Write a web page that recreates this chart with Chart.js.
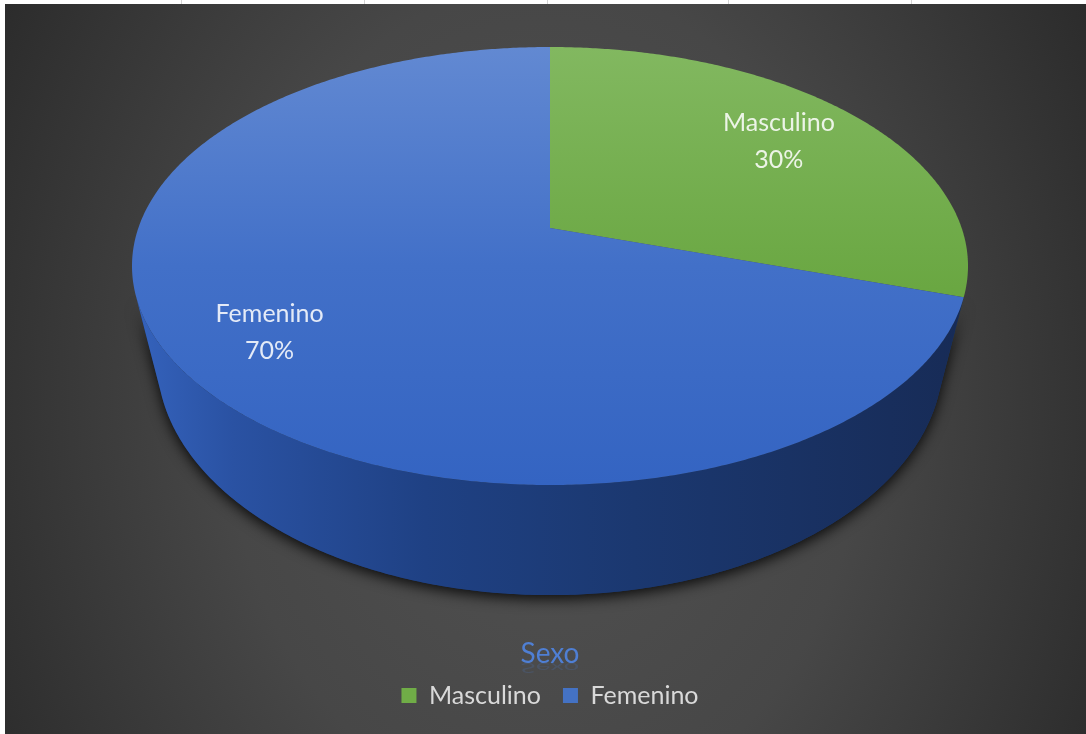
<!DOCTYPE html>
<html>
<head>
<meta charset="utf-8">
<title>Sexo</title>
<style>
  html, body { margin: 0; padding: 0; background: #ffffff; overflow: hidden; }
  canvas { display: block; }
</style>
<script src="https://cdn.jsdelivr.net/npm/chart.js@4.4.1/dist/chart.umd.min.js"></script>
</head>
<body>
<canvas id="chart" width="1086" height="734"></canvas>
<script>
// ---- data ----
const categories = ['Masculino', 'Femenino'];
const values = [30, 70];
const sliceColors = ['#70ad47', '#4472c4'];
const chartTitle = 'Sexo';

// ---- look ----
const FONT = "Lato, 'Liberation Sans', sans-serif";
const PERSPECTIVE = 0.1736;   // how much nearer points grow
const TILT = 0.516;           // vertical squash of the top face
const DEPTH = 0.221;          // height of the cylinder wall, relative to radius
const FLOOR_SHRINK = 0.06;    // the lower rim is farther from the eye, so it is a bit narrower
const LABEL_RADIUS = 0.76;    // where the slice labels sit, fraction of radius

// top face shading (far edge -> near edge) and wall shading (left -> right)
const topShades = [
  [[0, '#82b860'], [0.55, '#6aa742'], [1, '#63a23a']],
  [[0, '#6289d2'], [0.5, '#4270c8'], [1, '#3464c2']]
];
const sideShades = [
  [[0, '#4c862c'], [1, '#2e5819']],
  [[0, '#3563bd'], [0.12, '#2a52a3'], [0.35, '#1f4184'], [0.6, '#1b3870'], [1, '#172b56']]
];

function geometry(chart) {
  const area = chart.chartArea;
  const arcs = chart.getDatasetMeta(0).data;
  const A = (area.width / 2) * Math.sqrt(1 - PERSPECTIVE * PERSPECTIVE);
  const B = A * TILT;
  return {
    x0: arcs[0].x,
    y0: area.top + B / (1 + PERSPECTIVE),
    A, B, D: A * DEPTH,
    R: arcs[0].outerRadius,
    left: area.left, right: area.right, top: area.top
  };
}

// perspective projection of a point on the pie disc (angle t, radius fraction k),
// optionally dropped down to the lower rim
function project(g, t, k, drop) {
  const u = Math.cos(t) * k, v = Math.sin(t) * k;
  const w = 1 - PERSPECTIVE * v;
  const shrink = drop ? 1 - FLOOR_SHRINK : 1;
  return [g.x0 + g.A * u * shrink / w, g.y0 + (g.B * v + drop) / w];
}

function arcPoints(g, s, e, k, drop) {
  const pts = [];
  const n = Math.max(2, Math.ceil((e - s) / (Math.PI / 360)));
  for (let i = 0; i <= n; i++) pts.push(project(g, s + (e - s) * i / n, k, drop));
  return pts;
}

// the part of the wall that faces the viewer
function visibleWall(g) {
  const h = 1e-4;
  const facing = t => {
    const p0 = project(g, t - h, 1, 0), p1 = project(g, t + h, 1, 0);
    const top = project(g, t, 1, 0), bot = project(g, t, 1, g.D);
    const dx = p1[0] - p0[0], dy = p1[1] - p0[1];
    const ex = bot[0] - top[0], ey = bot[1] - top[1];
    return dx * ey - dy * ex < 0;
  };
  const step = Math.PI / 1440;
  let from = null, to = null;
  for (let t = 0; t <= Math.PI + 1e-9; t += step) {
    if (facing(t)) { if (from === null) from = t; to = t; }
  }
  return [from, to];
}

function makeGradient(ctx, x0, y0, x1, y1, stops) {
  const gr = ctx.createLinearGradient(x0, y0, x1, y1);
  stops.forEach(([o, c]) => gr.addColorStop(o, c));
  return gr;
}

function tracePath(ctx, pts, start) {
  pts.forEach(([x, y], i) => (i === 0 && start) ? ctx.moveTo(x, y) : ctx.lineTo(x, y));
}

const pie3d = {
  id: 'pie3d',
  beforeDraw(chart) {
    const { ctx, width, height } = chart;
    ctx.save();
    ctx.fillStyle = '#ffffff';
    ctx.fillRect(0, 0, width, height);
    // worksheet gridline stubs above the panel
    ctx.strokeStyle = '#d4d4d4';
    ctx.lineWidth = 1;
    [181, 364, 547, 728, 911].forEach(x => {
      ctx.beginPath(); ctx.moveTo(x + 0.5, 0); ctx.lineTo(x + 0.5, 4); ctx.stroke();
    });
    // dark panel with soft radial light
    const bx = 5, by = 4;
    const cx = 545, cy = 400, sy = 1.3;
    ctx.translate(cx, cy);
    ctx.scale(1, sy);
    const bg = ctx.createRadialGradient(0, 0, 0, 0, 0, 640);
    bg.addColorStop(0, '#525252');
    bg.addColorStop(0.5, '#474747');
    bg.addColorStop(1, '#2a2a2a');
    ctx.fillStyle = bg;
    ctx.fillRect(bx - cx, (by - cy) / sy, width - bx, (height - by) / sy);
    ctx.restore();
  },
  beforeDatasetsDraw(chart) {
    const { ctx } = chart;
    const arcs = chart.getDatasetMeta(0).data;
    const g = geometry(chart);
    const nearY = g.y0 + g.B / (1 - PERSPECTIVE);
    const [wFrom, wTo] = visibleWall(g);

    // drop shadow under the wall
    ctx.save();
    ctx.beginPath();
    tracePath(ctx, arcPoints(g, wFrom, wTo, 1, g.D), true);
    tracePath(ctx, arcPoints(g, wFrom, wTo, 1, 0).reverse(), false);
    ctx.closePath();
    ctx.shadowColor = 'rgba(0,0,0,0.85)';
    ctx.shadowBlur = 14;
    ctx.shadowOffsetY = 4;
    ctx.fillStyle = '#1b3566';
    ctx.fill();
    ctx.restore();

    // walls
    arcs.forEach((el, i) => {
      const s = Math.max(el.startAngle, wFrom), e = Math.min(el.endAngle, wTo);
      if (e <= s) return;
      const k = el.outerRadius / g.R;
      ctx.beginPath();
      tracePath(ctx, arcPoints(g, s, e, k, 0), true);
      tracePath(ctx, arcPoints(g, s, e, k, g.D).reverse(), false);
      ctx.closePath();
      ctx.fillStyle = makeGradient(ctx, g.left, 0, g.right, 0, sideShades[i]);
      ctx.fill();
    });

    // top faces
    arcs.forEach((el, i) => {
      const k = el.outerRadius / g.R;
      ctx.beginPath();
      ctx.moveTo(g.x0, g.y0);
      tracePath(ctx, arcPoints(g, el.startAngle, el.endAngle, k, 0), false);
      ctx.closePath();
      ctx.fillStyle = makeGradient(ctx, 0, g.top, 0, nearY, topShades[i]);
      ctx.fill();
    });

    // slice labels
    const total = values.reduce((a, b) => a + b, 0);
    ctx.save();
    ctx.font = '25px ' + FONT;
    ctx.fillStyle = 'rgba(255,255,255,0.86)';
    ctx.textAlign = 'center';
    ctx.textBaseline = 'middle';
    arcs.forEach((el, i) => {
      const mid = (el.startAngle + el.endAngle) / 2;
      const [x, y] = project(g, mid, LABEL_RADIUS, 0);
      const pct = Math.round(values[i] / total * 100) + '%';
      ctx.fillText(categories[i], x - 6, y - 17);
      ctx.fillText(pct, x - 6, y + 20);
    });
    ctx.restore();
    return false;
  },
  afterDraw(chart) {
    // faint mirror of the title
    const tb = chart.titleBlock;
    if (!tb) return;
    const { ctx } = chart;
    const x = tb.left + tb.width / 2;
    const base = tb.top - 3 + 16.8 + 9;
    ctx.save();
    ctx.translate(x, base);
    ctx.scale(1, -0.5);
    ctx.font = '28px ' + FONT;
    ctx.textAlign = 'center';
    ctx.textBaseline = 'alphabetic';
    ctx.fillStyle = 'rgba(79,127,212,0.18)';
    ctx.fillText(chartTitle, 0, 0);
    ctx.restore();
  }
};

new Chart(document.getElementById('chart'), {
  type: 'pie',
  data: {
    labels: categories,
    datasets: [{
      data: values,
      backgroundColor: sliceColors,
      borderWidth: 0,
      clip: false
    }]
  },
  options: {
    responsive: false,
    devicePixelRatio: 1,
    animation: false,
    events: [],
    layout: { padding: { left: 132, right: 118, top: 47, bottom: 16 } },
    plugins: {
      tooltip: { enabled: false },
      title: {
        display: true,
        text: chartTitle,
        position: 'bottom',
        weight: 500,
        color: '#4f7fd4',
        font: { family: FONT, size: 28, weight: 'normal' },
        padding: { top: -3, bottom: -10 }
      },
      legend: {
        position: 'bottom',
        labels: {
          color: '#d9d9d9',
          font: { family: FONT, size: 25 },
          boxWidth: 15,
          boxHeight: 15,
          padding: 22
        }
      }
    }
  },
  plugins: [pie3d]
});
</script>
</body>
</html>
